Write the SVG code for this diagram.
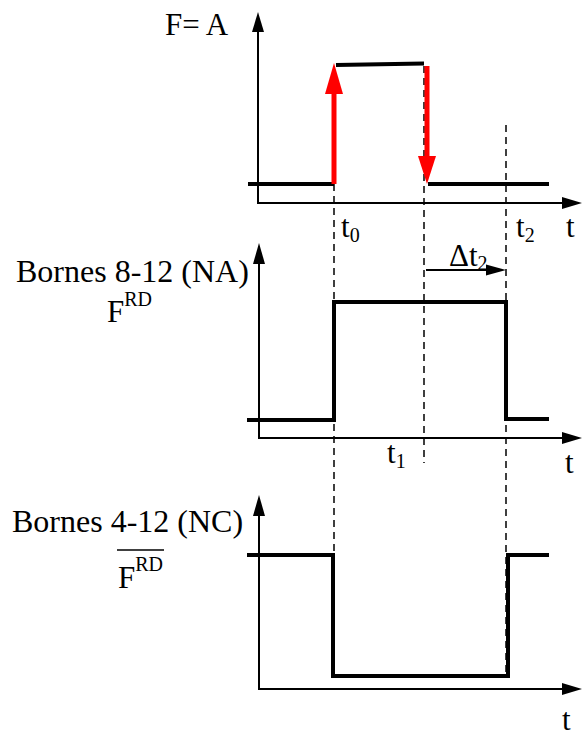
<svg xmlns="http://www.w3.org/2000/svg" width="582" height="732" viewBox="0 0 582 732">
<style>
.ax{stroke:#000;stroke-width:2;fill:none}
.sig{stroke:#000;stroke-width:4;fill:none;stroke-linecap:butt}
.dash{stroke:#000;stroke-width:1.5;stroke-dasharray:7,5;fill:none}
.red{stroke:#ff0000;stroke-width:5;fill:none}
.lbl{font-family:'Liberation Serif','DejaVu Serif','Times New Roman',serif;font-size:31px;fill:#000}
.sub{font-size:20px}
</style>
<rect width="582" height="732" fill="#fff"/>
<g id="connectors">
<line class="dash" x1="334" y1="184" x2="334" y2="676"/>
<line class="dash" x1="424" y1="66" x2="424" y2="463"/>
<line class="dash" x1="506" y1="125" x2="506" y2="676"/>
</g>
<g id="plot1">
<line class="ax" x1="258" y1="30" x2="258" y2="203"/>
<path d="M252,32 L258,12 L264,32 Z" fill="#000"/>
<line class="ax" x1="257" y1="203" x2="564" y2="203"/>
<path d="M562,197 L582,203 L562,209 Z" fill="#000"/>
<path class="sig" d="M248,184 H334"/>
<path class="sig" d="M336,65 L424,63.5"/>
<path class="sig" d="M428,184 H549"/>
<line class="red" x1="334" y1="184" x2="334" y2="92"/>
<path d="M325,94 L334,63 L343,94 Z" fill="#ff0000"/>
<line class="red" x1="427" y1="66" x2="427" y2="158"/>
<path d="M418,156 L427,184 L436,156 Z" fill="#ff0000"/>
<text class="lbl" x="165" y="35">F= A</text>
<text class="lbl" x="341" y="237">t<tspan class="sub" dy="5">0</tspan></text>
<text class="lbl" x="516" y="237">t<tspan class="sub" dy="5">2</tspan></text>
<text class="lbl" x="566" y="237">t</text>
</g>
<g id="delta">
<line class="ax" x1="426" y1="270" x2="488" y2="270"/>
<path d="M486,264.5 L506,270 L486,275.5 Z" fill="#000"/>
<text class="lbl" x="449" y="266">Δt<tspan class="sub" dy="4">2</tspan></text>
</g>
<g id="plot2">
<line class="ax" x1="259" y1="262" x2="259" y2="438"/>
<path d="M253,264 L259,243 L265,264 Z" fill="#000"/>
<line class="ax" x1="258" y1="438" x2="564" y2="438"/>
<path d="M562,432 L582,438 L562,444 Z" fill="#000"/>
<path class="sig" d="M247,420 H334 V302 H506 V419 H549"/>
<text class="lbl" x="16" y="282" style="font-size:32px">Bornes 8-12 (NA)</text>
<text class="lbl" x="107" y="322">F<tspan class="sub" dy="-16">RD</tspan></text>
<text class="lbl" x="387" y="463">t<tspan class="sub" dy="5">1</tspan></text>
<text class="lbl" x="565" y="473">t</text>
</g>
<g id="plot3">
<line class="ax" x1="259" y1="514" x2="259" y2="689"/>
<path d="M253,516 L259,495 L265,516 Z" fill="#000"/>
<line class="ax" x1="258" y1="689" x2="564" y2="689"/>
<path d="M562,683 L582,689 L562,695 Z" fill="#000"/>
<path class="sig" d="M247,555 H333 V676 H508 V555 H549"/>
<text class="lbl" x="12" y="532" style="font-size:32px">Bornes 4-12 (NC)</text>
<text class="lbl" x="118" y="588">F<tspan class="sub" dy="-17">RD</tspan></text>
<line x1="117" y1="550" x2="164" y2="550" stroke="#000" stroke-width="1.5"/>
<text class="lbl" x="562" y="730">t</text>
</g>
</svg>
